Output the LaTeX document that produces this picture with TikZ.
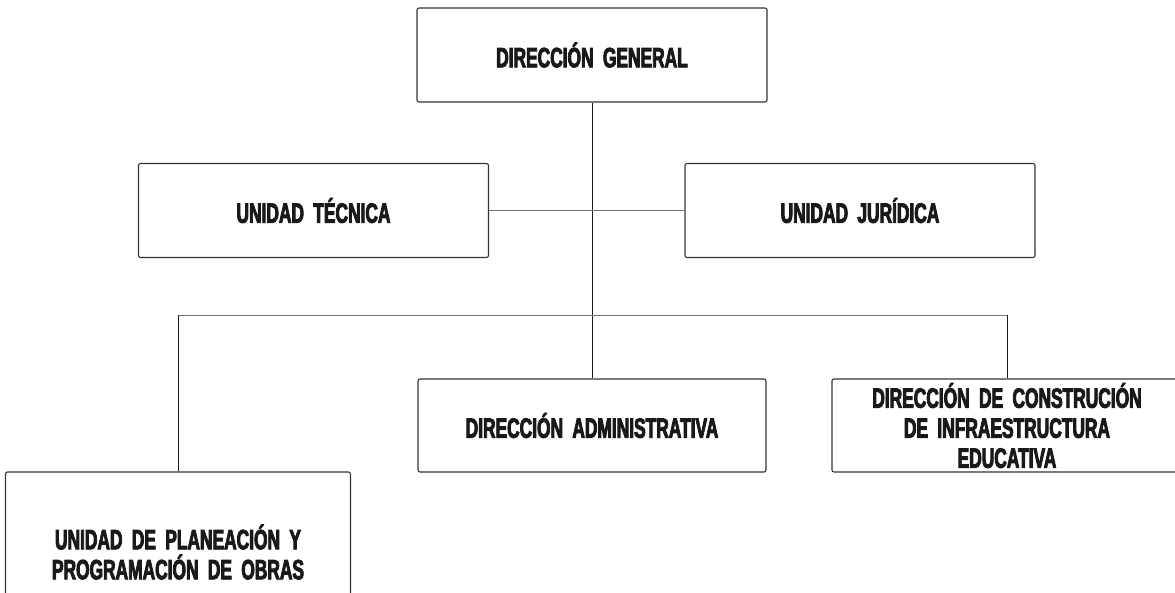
\documentclass[tikz,border=0pt]{standalone}
\usepackage{fontspec}
\newfontfamily\orgfont{Liberation Sans Bold}[FakeStretch=0.62,FakeBold=3,WordSpace=0.5]
\usetikzlibrary{positioning}

\begin{document}
\begin{tikzpicture}[x=1pt,y=1pt,
caja/.style = {rectangle, rounded corners=2pt, draw=black!80, line width=1.1pt, minimum width=350pt, minimum height=94pt, text width=340pt, align=center, inner sep=0pt, text=black!90, font=\orgfont\fontsize{28}{30}\selectfont},
caja_b/.style = {caja, minimum width=345pt, minimum height=160pt},
enlace/.style = {draw=black!55, line width=1pt},
enlace_v/.style = {draw=black!90, line width=1pt}
]
\useasboundingbox[clip] (0,0) rectangle (1175,-592);

\node (dg) [caja] at (592,-55) {DIRECCIÓN GENERAL};

\node (ut) [caja] at (313.5,-210.5) {UNIDAD TÉCNICA};
\node (uj) [caja] at (860,-210.5) {UNIDAD JURÍDICA};

\node (da) [caja, minimum width=348pt, minimum height=93pt] at (592,-425.5) {DIRECCIÓN ADMINISTRATIVA};
\node (dcie) [caja, minimum height=93pt] at (1007,-425.5) {DIRECCIÓN DE CONSTRUCIÓN\\DE INFRAESTRUCTURA\\EDUCATIVA};
\node (uppo) [caja_b] at (178,-552) {UNIDAD DE PLANEACIÓN Y\\PROGRAMACIÓN DE OBRAS};

\coordinate (bus) at (592,-315);

\draw[enlace_v] (dg.south) -- (da.north);
\draw[enlace] (ut.east) -- (uj.west);
\draw[enlace] (uppo.north |- bus) -- (dcie.north |- bus);
\draw[enlace_v] (uppo.north) -- (uppo.north |- bus);
\draw[enlace_v] (dcie.north) -- (dcie.north |- bus);
\end{tikzpicture}
\end{document}
